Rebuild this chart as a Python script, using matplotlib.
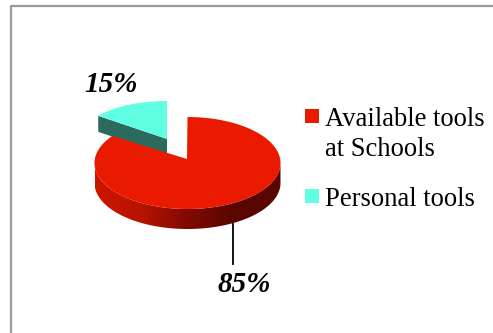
import numpy as np
import matplotlib
matplotlib.use("Agg")
import matplotlib.pyplot as plt
from matplotlib.patches import Polygon, Rectangle
from matplotlib.colors import LinearSegmentedColormap
from matplotlib.lines import Line2D

categories = ["Available tools\nat Schools", "Personal tools"]
shares = [85, 15]
share_labels = ["85%", "15%"]
top_colors = ["#e91a00", "#60ffe4"]
side_color_cyan = "#2a6b5e"

plt.rcParams["font.family"] = ["Liberation Serif", "DejaVu Serif"]

fig = plt.figure(figsize=(4.93, 3.33), dpi=100, facecolor="white")
ax = fig.add_axes([0, 0, 1, 1])
ax.set_xlim(0, 493)
ax.set_ylim(333, 0)
ax.axis("off")

# Chart frame: only the top and left edges fall inside the canvas
ax.add_line(Line2D([11, 11, 493], [333, 5.5, 5.5], color="#9a9a9a", lw=1.6))

total = sum(shares)
red_sweep = 2 * np.pi * shares[0] / total


def rim(t, cx, cy, rx, ry):
    return np.column_stack([cx + rx * np.sin(t), cy - ry * np.cos(t)])


# Pulled-out slice, behind the main one
apex = np.array([167.0, 139.0])
arc = rim(np.linspace(red_sweep, 2 * np.pi, 60), 167, 137, 85, 36)
depth = 16
edge_wall = np.vstack([arc[0], apex, apex + [0, depth], arc[0] + [0, depth]])
ax.add_patch(Polygon(edge_wall, closed=True, fc=side_color_cyan, ec="none"))
ax.add_patch(Polygon(np.vstack([apex, arc]), closed=True, fc=top_colors[1], ec="none"))

# Main slice: outer wall with a left-to-right shade, then the top face
cx, cy, rx, ry, thick = 187.5, 163, 93, 46, 20
apex_main = np.array([187.0, 159.0])
t_front = np.linspace(np.pi / 2, 3 * np.pi / 2, 120)
front = rim(t_front, cx, cy, rx, ry)
wall = Polygon(np.vstack([front, (front + [0, thick])[::-1]]), closed=True, fc="none", ec="none")
ax.add_patch(wall)
shade = LinearSegmentedColormap.from_list("wall", ["#cc1600", "#b81200", "#800a00", "#5a0600", "#5a0600"])
img = ax.imshow(np.linspace(0, 1, 256)[None, :], cmap=shade, aspect="auto",
                extent=(cx - rx, cx + rx, cy + ry + thick + 2, cy - 5), zorder=2)
img.set_clip_path(wall)
ax.set_xlim(0, 493)
ax.set_ylim(333, 0)

top_arc = rim(np.linspace(0, red_sweep, 200), cx, cy, rx, ry)
ax.add_patch(Polygon(np.vstack([apex_main, top_arc]), closed=True, fc=top_colors[0], ec="none", zorder=3))

# Leader line and value labels
ax.add_line(Line2D([233, 233], [224, 264], color="#000000", lw=1.3, zorder=4))
ax.text(244, 284, share_labels[0], fontsize=21, style="italic", weight="bold", ha="center", va="center", color="#000000")
ax.text(111, 84, share_labels[1], fontsize=21, style="italic", weight="bold", ha="center", va="center", color="#000000")

# Legend
ax.add_patch(Rectangle((305, 109), 14, 14, fc=top_colors[0], ec="none"))
ax.add_patch(Rectangle((305, 189), 14, 14, fc=top_colors[1], ec="none"))
ax.text(325, 120, categories[0].split("\n")[0], fontsize=19.2, va="center", ha="left", color="#000000")
ax.text(325, 150, categories[0].split("\n")[1], fontsize=19.2, va="center", ha="left", color="#000000")
ax.text(325, 200, categories[1], fontsize=19.2, va="center", ha="left", color="#000000")

fig.savefig("out.png", dpi=100, facecolor="white")
